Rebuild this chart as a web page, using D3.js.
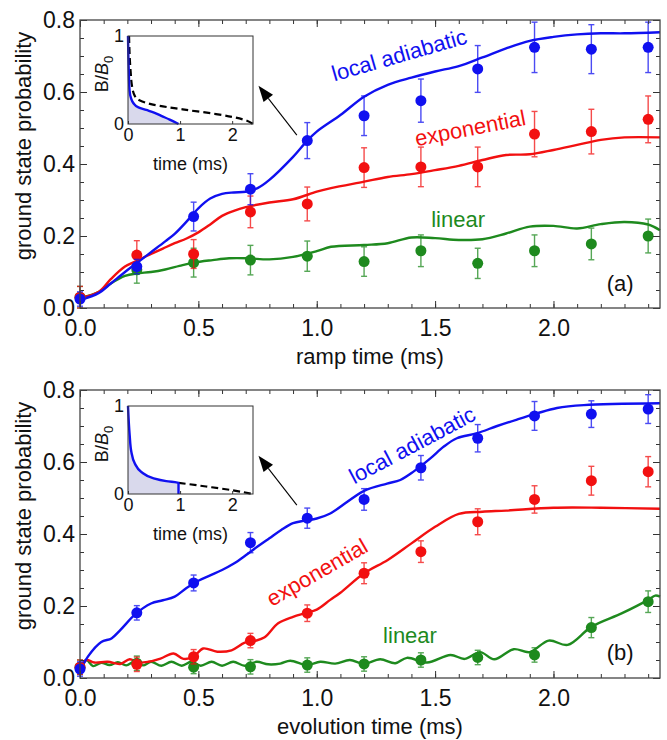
<!DOCTYPE html>
<html>
<head>
<meta charset="utf-8">
<script src="https://cdn.jsdelivr.net/npm/d3@7"></script>
<style>
    body { margin: 0; background: #fff; }
    svg text { font-family: "Liberation Sans", Arial, Helvetica, sans-serif; }
</style>
</head>
<body>
<svg id="chart" width="667" height="740"></svg>
<script>
// measured ramp / evolution times (ms)
const times = [0, 0.24, 0.48, 0.72, 0.96, 1.2, 1.44, 1.68, 1.92, 2.16, 2.4];

const xTicks = [0, 0.5, 1.0, 1.5, 2.0];
const yTicks = [0, 0.2, 0.4, 0.6, 0.8];
const insetXTicks = [0, 1, 2];
const insetYTicks = [0, 1];

// panel (a): ramp time
const rampAdiabatic    = [0.025, 0.115, 0.254, 0.33, 0.465, 0.534, 0.576, 0.664, 0.724, 0.719, 0.724];
const rampAdiabaticErr = [0.02, 0.02, 0.04, 0.043, 0.05, 0.055, 0.06, 0.065, 0.07, 0.068, 0.07];
const rampExp          = [0.03, 0.147, 0.15, 0.267, 0.289, 0.39, 0.392, 0.392, 0.483, 0.49, 0.524];
const rampExpErr       = [0.03, 0.04, 0.04, 0.044, 0.047, 0.055, 0.055, 0.055, 0.063, 0.062, 0.065];
const rampLinear       = [0.03, 0.106, 0.126, 0.133, 0.144, 0.129, 0.159, 0.124, 0.159, 0.178, 0.2];
const rampLinearErr    = [0.03, 0.037, 0.04, 0.041, 0.042, 0.041, 0.044, 0.042, 0.044, 0.044, 0.047];

const rampAdiabaticFit = [[0,0.022],[0.08,0.042],[0.13,0.068],[0.19,0.1],[0.24,0.125],[0.3,0.155],[0.36,0.185],[0.4,0.206],[0.45,0.24],[0.5,0.277],[0.55,0.304],[0.6,0.317],[0.65,0.321],[0.7,0.323],[0.75,0.333],[0.8,0.356],[0.9,0.42],[0.96,0.465],[1.0,0.49],[1.1,0.536],[1.2,0.587],[1.3,0.62],[1.4,0.64],[1.5,0.657],[1.6,0.672],[1.7,0.696],[1.8,0.721],[1.9,0.742],[2.0,0.753],[2.1,0.76],[2.2,0.763],[2.3,0.763],[2.45,0.766]];
const rampExpFit = [[0,0.027],[0.08,0.045],[0.13,0.08],[0.19,0.115],[0.24,0.131],[0.3,0.15],[0.35,0.165],[0.4,0.18],[0.45,0.193],[0.5,0.21],[0.55,0.232],[0.6,0.256],[0.65,0.27],[0.7,0.28],[0.8,0.293],[0.9,0.302],[1.0,0.323],[1.06,0.333],[1.2,0.351],[1.3,0.364],[1.4,0.372],[1.5,0.383],[1.6,0.395],[1.7,0.411],[1.8,0.425],[1.9,0.427],[2.0,0.439],[2.1,0.453],[2.2,0.467],[2.3,0.474],[2.45,0.474]];
const rampLinearFit = [[0,0.027],[0.08,0.045],[0.13,0.068],[0.19,0.089],[0.24,0.096],[0.3,0.1],[0.36,0.107],[0.42,0.117],[0.48,0.126],[0.56,0.133],[0.63,0.138],[0.71,0.138],[0.8,0.135],[0.9,0.142],[1.0,0.158],[1.06,0.17],[1.2,0.175],[1.3,0.18],[1.4,0.196],[1.5,0.194],[1.6,0.189],[1.7,0.191],[1.8,0.207],[1.9,0.226],[2.0,0.228],[2.1,0.221],[2.2,0.233],[2.3,0.239],[2.4,0.232],[2.45,0.216]];

// panel (b): evolution time
const evoAdiabatic    = [0.025, 0.181, 0.264, 0.376, 0.444, 0.496, 0.584, 0.666, 0.728, 0.733, 0.747];
const evoAdiabaticErr = [0.02, 0.02, 0.022, 0.028, 0.028, 0.03, 0.034, 0.038, 0.04, 0.037, 0.04];
const evoExp          = [0.03, 0.038, 0.059, 0.104, 0.18, 0.291, 0.351, 0.434, 0.496, 0.548, 0.573];
const evoExpErr       = [0.02, 0.02, 0.02, 0.02, 0.023, 0.029, 0.03, 0.036, 0.038, 0.04, 0.042];
const evoLinear       = [0.03, 0.041, 0.03, 0.031, 0.036, 0.039, 0.05, 0.057, 0.064, 0.14, 0.212];
const evoLinearErr    = [0.02, 0.02, 0.018, 0.02, 0.02, 0.02, 0.02, 0.02, 0.02, 0.028, 0.03];

const evoAdiabaticFit = [[0,0.018],[0.034,0.06],[0.09,0.1],[0.133,0.11],[0.17,0.133],[0.235,0.178],[0.3,0.207],[0.35,0.216],[0.4,0.226],[0.45,0.25],[0.5,0.27],[0.55,0.285],[0.6,0.3],[0.65,0.318],[0.7,0.341],[0.75,0.365],[0.8,0.388],[0.85,0.411],[0.9,0.43],[0.95,0.437],[1.0,0.443],[1.057,0.457],[1.2,0.52],[1.297,0.54],[1.353,0.55],[1.41,0.574],[1.48,0.61],[1.537,0.643],[1.592,0.666],[1.677,0.68],[1.762,0.7],[1.846,0.718],[1.93,0.735],[2.015,0.75],[2.128,0.758],[2.45,0.763]];
const evoExpFit = [[0,0.022],[0.027,0.05],[0.06,0.043],[0.117,0.045],[0.17,0.039],[0.21,0.052],[0.245,0.043],[0.288,0.045],[0.34,0.054],[0.395,0.068],[0.437,0.053],[0.48,0.059],[0.52,0.082],[0.58,0.073],[0.64,0.077],[0.696,0.098],[0.738,0.103],[0.78,0.113],[0.837,0.152],[0.9,0.17],[0.95,0.18],[1.0,0.19],[1.057,0.217],[1.1,0.237],[1.2,0.291],[1.3,0.328],[1.4,0.374],[1.5,0.42],[1.6,0.456],[1.7,0.462],[1.8,0.465],[2.0,0.473],[2.2,0.473],[2.45,0.47]];
const evoLinearFit = [[0,0.022],[0.027,0.05],[0.055,0.033],[0.09,0.042],[0.125,0.036],[0.16,0.044],[0.195,0.035],[0.23,0.045],[0.266,0.035],[0.3,0.045],[0.344,0.034],[0.386,0.045],[0.43,0.034],[0.47,0.045],[0.51,0.034],[0.556,0.045],[0.6,0.034],[0.647,0.045],[0.696,0.034],[0.746,0.045],[0.795,0.038],[0.846,0.04],[0.888,0.048],[0.96,0.036],[1.015,0.045],[1.078,0.04],[1.14,0.05],[1.198,0.039],[1.268,0.052],[1.332,0.041],[1.381,0.056],[1.466,0.043],[1.565,0.064],[1.625,0.053],[1.69,0.072],[1.75,0.052],[1.832,0.08],[1.9,0.072],[1.98,0.104],[2.06,0.092],[2.16,0.142],[2.29,0.18],[2.4,0.217],[2.43,0.229],[2.45,0.226]];

// insets: B/B0 vs time
const insetRampA = [[0,1],[0.015,0.6],[0.03,0.38],[0.06,0.29],[0.1,0.24],[0.2,0.19],[0.35,0.16],[0.5,0.13],[0.65,0.09],[0.8,0.05],[0.97,0]];
const insetDashA = [[0.02,1],[0.05,0.6],[0.08,0.42],[0.13,0.32],[0.22,0.27],[0.48,0.22],[1.05,0.166],[1.69,0.113],[2.2,0.053],[2.4,0]];
const insetRampB = [[0,1],[0.032,0.67],[0.064,0.48],[0.128,0.35],[0.256,0.25],[0.48,0.18],[0.735,0.146],[0.97,0.127],[0.97,0]];
const insetDashB = [[0.97,0.127],[1.5,0.085],[2.0,0.043],[2.4,0]];

const BLUE = "#1010f0", RED = "#f21010", GREEN = "#1e8a1e";

const svg = d3.select("#chart");

const x = d3.scaleLinear().domain([0, 2.45]).range([80, 660]);
const y = d3.scaleLinear().domain([0, 0.8]).range([308, 20]);
const ix = d3.scaleLinear().domain([0, 2.4]).range([128, 253]);
const iy = d3.scaleLinear().domain([0, 1]).range([124, 36]);

const fitLine = d3.line()
    .x(d => x(d[0]))
    .y(d => y(d[1]))
    .curve(d3.curveCatmullRom.alpha(0.5));

const insetLine = d3.line()
    .x(d => ix(d[0]))
    .y(d => iy(d[1]))
    .curve(d3.curveMonotoneY);

function drawAxes(g) {
    const minor = d3.range(0, 2.45, 0.1);
    const yMinor = d3.range(0, 0.801, 0.05);
    const H = y(0), T = y(0.8), L = x(0), R = x(2.45);

    g.append("g").attr("transform", "translate(0," + H + ")")
        .call(d3.axisBottom(x).tickValues(minor).tickSize(-4).tickFormat(""));
    g.append("g").attr("transform", "translate(0," + H + ")")
        .call(d3.axisBottom(x).tickValues(xTicks).tickSize(-7).tickPadding(12).tickFormat(d3.format(".1f")));
    g.append("g").attr("transform", "translate(0," + T + ")")
        .call(d3.axisTop(x).tickValues(minor).tickSize(-4).tickFormat(""));
    g.append("g").attr("transform", "translate(0," + T + ")")
        .call(d3.axisTop(x).tickValues(xTicks).tickSize(-7).tickFormat(""));

    g.append("g").attr("transform", "translate(" + L + ",0)")
        .call(d3.axisLeft(y).tickValues(yMinor).tickSize(-4).tickFormat(""));
    g.append("g").attr("transform", "translate(" + L + ",0)")
        .call(d3.axisLeft(y).tickValues(yTicks).tickSize(-7).tickPadding(5).tickFormat(d3.format(".1f")));
    g.append("g").attr("transform", "translate(" + R + ",0)")
        .call(d3.axisRight(y).tickValues(yMinor).tickSize(-4).tickFormat(""));
    g.append("g").attr("transform", "translate(" + R + ",0)")
        .call(d3.axisRight(y).tickValues(yTicks).tickSize(-7).tickFormat(""));

    g.selectAll(".domain").remove();
    g.selectAll(".tick line").attr("stroke", "#333").attr("stroke-width", 1);
    g.selectAll(".tick text").attr("font-size", 23).attr("fill", "#111")
        .style("font-family", '"Liberation Sans", Arial, sans-serif');

    g.append("rect")
        .attr("x", L).attr("y", T)
        .attr("width", R - L).attr("height", H - T)
        .attr("fill", "none").attr("stroke", "#444").attr("stroke-width", 1.3);
}

function drawSeries(g, values, errs, color) {
    const pts = times.map((t, i) => ({t: t, v: values[i], e: errs[i]}));
    const eb = g.append("g").attr("stroke", color).attr("stroke-width", 1.4).attr("opacity", 0.75);
    eb.selectAll(".bar").data(pts).enter().append("line")
        .attr("x1", d => x(d.t)).attr("x2", d => x(d.t))
        .attr("y1", d => y(d.v - d.e)).attr("y2", d => y(d.v + d.e));
    eb.selectAll(".capTop").data(pts).enter().append("line")
        .attr("x1", d => x(d.t) - 3).attr("x2", d => x(d.t) + 3)
        .attr("y1", d => y(d.v + d.e)).attr("y2", d => y(d.v + d.e));
    eb.selectAll(".capBot").data(pts).enter().append("line")
        .attr("x1", d => x(d.t) - 3).attr("x2", d => x(d.t) + 3)
        .attr("y1", d => y(d.v - d.e)).attr("y2", d => y(d.v - d.e));
    g.append("g").selectAll("circle").data(pts).enter().append("circle")
        .attr("cx", d => x(d.t)).attr("cy", d => y(d.v))
        .attr("r", 5.5).attr("fill", color);
}

function drawInset(g, solid, dashed) {
    g.append("rect")
        .attr("x", ix(0)).attr("y", iy(1))
        .attr("width", ix(2.4) - ix(0)).attr("height", iy(0) - iy(1))
        .attr("fill", "#fff");

    const last = solid[solid.length - 1];
    g.append("path")
        .attr("d", insetLine(solid) + "L" + ix(last[0]) + "," + iy(0) + "L" + ix(0) + "," + iy(0) + "Z")
        .attr("fill", "#d9d9ec").attr("stroke", "none");

    g.append("path").attr("d", insetLine(dashed))
        .attr("fill", "none").attr("stroke", "#000")
        .attr("stroke-width", 2.2).attr("stroke-dasharray", "7,4");
    g.append("path").attr("d", insetLine(solid))
        .attr("fill", "none").attr("stroke", BLUE).attr("stroke-width", 2.4);

    g.append("g").attr("transform", "translate(0," + iy(0) + ")")
        .call(d3.axisBottom(ix).tickValues(insetXTicks).tickSize(-3).tickPadding(4).tickFormat(d3.format("d")));
    g.append("g").attr("transform", "translate(" + ix(0) + ",0)")
        .call(d3.axisLeft(iy).tickValues(insetYTicks).tickSize(0).tickPadding(4).tickFormat(d3.format("d")));
    g.selectAll(".domain").remove();
    g.selectAll(".tick line").attr("stroke", "#333");
    g.selectAll(".tick text").attr("font-size", 18).attr("fill", "#111")
        .style("font-family", '"Liberation Sans", Arial, sans-serif');

    g.append("rect")
        .attr("x", ix(0)).attr("y", iy(1))
        .attr("width", ix(2.4) - ix(0)).attr("height", iy(0) - iy(1))
        .attr("fill", "none").attr("stroke", "#333").attr("stroke-width", 1);

    g.append("text")
        .attr("x", (ix(0) + ix(2.4)) / 2).attr("y", 170)
        .attr("text-anchor", "middle").attr("font-size", 18).attr("fill", "#111")
        .text("time (ms)");

    const bl = g.append("text")
        .attr("transform", "translate(108,74) rotate(-90)")
        .attr("text-anchor", "middle").attr("font-size", 18).attr("fill", "#111");
    bl.append("tspan").text("B/");
    bl.append("tspan").attr("font-style", "italic").text("B");
    bl.append("tspan").attr("font-size", 13).attr("dy", 5).text("0");
}

function drawArrow(g) {
    const x1 = x(0.916), y1 = y(0.48), x2 = x(0.754), y2 = y(0.6175);
    const ang = Math.atan2(y2 - y1, x2 - x1);
    const len = 16, wid = 6;
    const bx = x2 - len * Math.cos(ang), by = y2 - len * Math.sin(ang);
    g.append("line")
        .attr("x1", x1).attr("y1", y1).attr("x2", bx).attr("y2", by)
        .attr("stroke", "#000").attr("stroke-width", 1.1);
    g.append("path")
        .attr("d", "M" + x2 + "," + y2 +
            "L" + (bx + wid * Math.sin(ang)) + "," + (by - wid * Math.cos(ang)) +
            "L" + (bx - wid * Math.sin(ang)) + "," + (by + wid * Math.cos(ang)) + "Z")
        .attr("fill", "#000");
}

function drawLabels(g, labels) {
    labels.forEach(l => {
        g.append("text")
            .attr("transform", "translate(" + x(l.t) + "," + y(l.v) + ") rotate(" + l.rot + ")")
            .attr("text-anchor", "middle").attr("dy", "0.35em")
            .attr("font-size", 22).attr("fill", l.color)
            .text(l.text);
    });
}

function drawPanel(offset, sets, labels, xLabel, solid, dashed) {
    const g = svg.append("g").attr("transform", "translate(0," + offset + ")");

    sets.forEach(s => {
        g.append("path").datum(s.fit)
            .attr("d", fitLine)
            .attr("fill", "none").attr("stroke", s.color).attr("stroke-width", 2.4);
    });
    sets.forEach(s => drawSeries(g, s.values, s.errs, s.color));

    drawAxes(g);
    drawInset(g.append("g"), solid, dashed);
    drawArrow(g);
    drawLabels(g, labels);

    g.append("text")
        .attr("transform", "translate(31,146) rotate(-90)")
        .attr("text-anchor", "middle").attr("font-size", 22).attr("fill", "#111")
        .text("ground state probability");
    g.append("text")
        .attr("x", (x(0) + x(2.45)) / 2).attr("y", 364)
        .attr("text-anchor", "middle").attr("font-size", 22).attr("fill", "#111")
        .text(xLabel);
}

drawPanel(0, [
    {fit: rampLinearFit, values: rampLinear, errs: rampLinearErr, color: GREEN},
    {fit: rampExpFit, values: rampExp, errs: rampExpErr, color: RED},
    {fit: rampAdiabaticFit, values: rampAdiabatic, errs: rampAdiabaticErr, color: BLUE}
], [
    {text: "local adiabatic", t: 1.348, v: 0.703, rot: -16, color: BLUE},
    {text: "exponential", t: 1.648, v: 0.5, rot: -11, color: RED},
    {text: "linear", t: 1.597, v: 0.247, rot: 0, color: GREEN},
    {text: "(a)", t: 2.282, v: 0.069, rot: 0, color: "#111"}
], "ramp time (ms)", insetRampA, insetDashA);

drawPanel(370, [
    {fit: evoLinearFit, values: evoLinear, errs: evoLinearErr, color: GREEN},
    {fit: evoExpFit, values: evoExp, errs: evoExpErr, color: RED},
    {fit: evoAdiabaticFit, values: evoAdiabatic, errs: evoAdiabaticErr, color: BLUE}
], [
    {text: "local adiabatic", t: 1.403, v: 0.647, rot: -28, color: BLUE},
    {text: "exponential", t: 1.001, v: 0.294, rot: -30, color: RED},
    {text: "linear", t: 1.394, v: 0.119, rot: 0, color: GREEN},
    {text: "(b)", t: 2.282, v: 0.072, rot: 0, color: "#111"}
], "evolution time (ms)", insetRampB, insetDashB);
</script>
</body>
</html>
